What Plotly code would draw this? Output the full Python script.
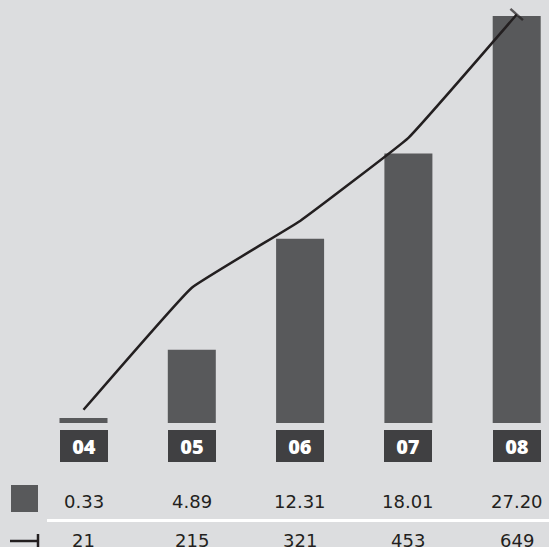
import plotly.graph_objects as go

years = ["04", "05", "06", "07", "08"]
bar_values = [0.33, 4.89, 12.31, 18.01, 27.20]
line_values = [21, 215, 321, 453, 649]
bar_labels = ["0.33", "4.89", "12.31", "18.01", "27.20"]
line_labels = ["21", "215", "321", "453", "649"]

BG = "#DCDDDF"
BAR = "#58595B"
BOX = "#404042"
INK = "#231F20"

W, H = 549, 547
x = list(range(len(years)))
spacing = 108.3
x0px = 83.5
base_px = 423  # baseline pixel from top

fig = go.Figure()
fig.add_trace(go.Bar(x=x, y=bar_values, width=48 / spacing, marker_color=BAR,
                     marker_line_width=0, yaxis="y", hoverinfo="skip"))
fig.add_trace(go.Scatter(x=x, y=line_values, yaxis="y2", mode="lines+markers",
                         line=dict(color=INK, width=2.5, shape="spline", smoothing=0.25),
                         marker=dict(symbol="line-ew", angle=42,
                                     size=[0] * (len(x) - 1) + [12],
                                     line=dict(color=INK, width=2.5)),
                         hoverinfo="skip"))

annotations = []
box_y = (H - 446) / H
row1_y = (H - 501.5) / H
row2_y = (H - 540) / H
for i, yr in enumerate(years):
    annotations.append(dict(x=i, xref="x", y=box_y, yref="paper", text=yr,
                            showarrow=False, bgcolor=BOX, width=48, height=32,
                            borderpad=0, borderwidth=0, xanchor="center", yanchor="middle",
                            font=dict(family="Open Sans", size=20, color="white", weight=800)))
    annotations.append(dict(x=i, xref="x", y=row1_y, yref="paper", text=bar_labels[i],
                            showarrow=False, xanchor="center", yanchor="middle",
                            font=dict(family="DejaVu Sans", size=18, color=INK)))
    annotations.append(dict(x=i, xref="x", y=row2_y, yref="paper", text=line_labels[i],
                            showarrow=False, xanchor="center", yanchor="middle",
                            font=dict(family="DejaVu Sans", size=18, color=INK)))

def py(p):
    return (H - p) / H

def px(p):
    return p / W

shapes = [
    # legend square
    dict(type="rect", xref="paper", yref="paper", x0=px(11), x1=px(38), y0=py(512), y1=py(485),
         fillcolor=BAR, line_width=0),
    # separator
    dict(type="line", xref="paper", yref="paper", x0=px(47), x1=1, y0=py(520.5), y1=py(520.5),
         line=dict(color="white", width=3)),
    # legend line symbol
    dict(type="line", xref="paper", yref="paper", x0=px(10), x1=px(38), y0=py(541), y1=py(541),
         line=dict(color=INK, width=2.5)),
    dict(type="line", xref="paper", yref="paper", x0=px(38), x1=px(38), y0=py(534), y1=py(548),
         line=dict(color=INK, width=2.5)),
]

fig.update_layout(
    width=W, height=H,
    margin=dict(l=0, r=0, t=0, b=0),
    paper_bgcolor=BG, plot_bgcolor="rgba(0,0,0,0)",
    showlegend=False,
    xaxis=dict(range=[-x0px / spacing, (W - x0px) / spacing], visible=False, fixedrange=True),
    yaxis=dict(domain=[(H - base_px) / H, 1], range=[0, base_px / 14.963], visible=False),
    yaxis2=dict(domain=[(H - base_px) / H, 1], range=[0, base_px / 0.6294], visible=False,
                overlaying="y"),
    annotations=annotations,
    shapes=shapes,
)

fig.write_html("out.html")
